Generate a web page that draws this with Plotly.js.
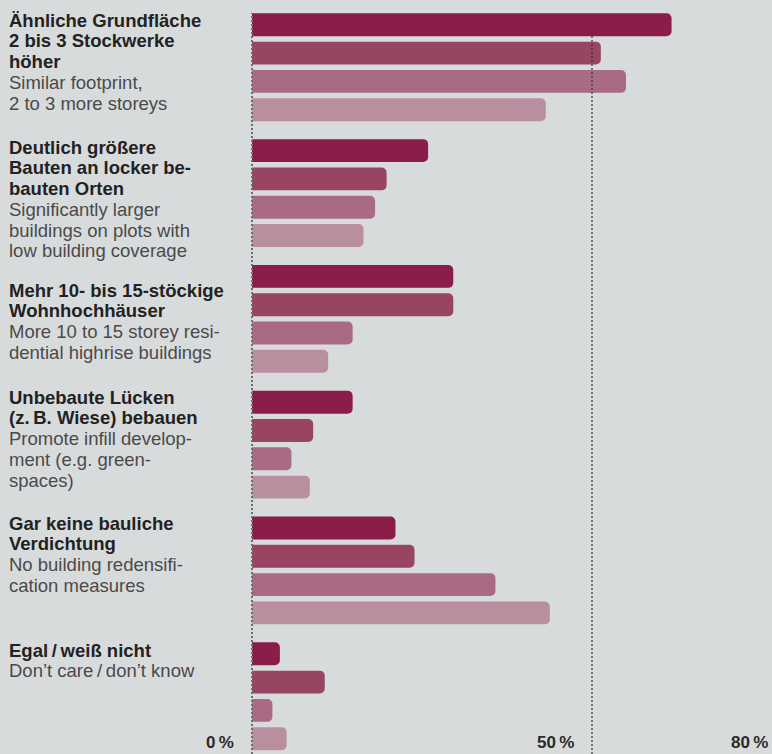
<!DOCTYPE html>
<html>
<head>
<meta charset="utf-8">
<script src="https://cdn.plot.ly/plotly-3.0.1.min.js"></script>
<style>
  html, body { margin: 0; padding: 0; background: #d8dbdc; }
  #chart { width: 772px; height: 754px; }
</style>
</head>
<body>
<div id="chart"></div>
<script>
// ---- data ----
const categories = [
  'Ähnliche Grundfläche',
  'Deutlich größere Bauten',
  'Mehr 10- bis 15-stöckige Wohnhochhäuser',
  'Unbebaute Lücken bebauen',
  'Gar keine bauliche Verdichtung',
  'Egal / weiß nicht'
];
const series1 = [61.7, 25.9, 29.6, 14.8, 21.1, 4.1];
const series2 = [51.3, 19.8, 29.6, 9.0, 23.9, 10.7];
const series3 = [55.0, 18.1, 14.8, 5.8, 35.8, 3.0];
const series4 = [43.2, 16.4, 11.2, 8.5, 43.8, 5.1];
const seriesColors = ['#8b1d4a', '#984564', '#a96b83', '#b98fa0'];

const labelsDe = [
  ['Ähnliche Grundfläche', '2 bis 3 Stockwerke', 'höher'],
  ['Deutlich größere', 'Bauten an locker be-', 'bauten Orten'],
  ['Mehr 10- bis 15-stöckige', 'Wohnhochhäuser'],
  ['Unbebaute Lücken', '(z.\u2009B. Wiese) bebauen'],
  ['Gar keine bauliche', 'Verdichtung'],
  ['Egal\u2009/\u2009weiß nicht']
];
const labelsEn = [
  ['Similar footprint,', '2 to 3 more storeys'],
  ['Significantly larger', 'buildings on plots with', 'low building coverage'],
  ['More 10 to 15 storey resi-', 'dential highrise buildings'],
  ['Promote infill develop-', 'ment (e.g. green-', 'spaces)'],
  ['No building redensifi-', 'cation measures'],
  ['Don\u2019t care\u2009/\u2009don\u2019t know']
];
const tickVals = [0, 50, 80];
const tickLabels = ['0\u2009%', '50\u2009%', '80\u2009%'];

// ---- layout helpers ----
const W = 772, H = 754, ML = 248;
const PW = W - ML;
const textTopPx = [20, 147, 290, 397, 523, 650];
const lineStep = 20.8;
const textLeftPx = 7;
const FONT = 'Liberation Sans, Arial, sans-serif';

const allSeries = [series1, series2, series3, series4];
const traces = allSeries.map((vals, i) => ({
  type: 'bar',
  orientation: 'h',
  x: vals,
  y: categories,
  marker: { color: seriesColors[i], line: { width: 0 } },
  hoverinfo: 'skip',
  showlegend: false
}));

const annotations = [];
labelsDe.forEach((deLines, g) => {
  const lines = deLines.map(t => ({ t, bold: true })).concat(labelsEn[g].map(t => ({ t, bold: false })));
  lines.forEach((ln, i) => {
    const py = textTopPx[g] + i * lineStep;
    annotations.push({
      xref: 'paper', yref: 'paper',
      x: (textLeftPx - ML) / PW, y: 1 - py / H,
      xanchor: 'left', yanchor: 'middle',
      text: ln.bold ? '<b>' + ln.t + '</b>' : ln.t,
      showarrow: false,
      font: { family: FONT, size: 18.5, color: ln.bold ? '#222222' : '#4a4a4a' }
    });
  });
});
tickVals.forEach((v, i) => {
  const last = i === tickVals.length - 1;
  annotations.push({
    xref: last ? 'paper' : 'x', yref: 'paper',
    x: last ? 1 : v, y: 0,
    xanchor: 'right', yanchor: 'bottom',
    xshift: last ? -2 : -16, yshift: 0,
    text: '<b>' + tickLabels[i] + '</b>',
    showarrow: false,
    font: { family: FONT, size: 17, color: '#2a2a2a' }
  });
});

const shapes = [
  { type: 'line', xref: 'x', yref: 'paper', x0: 0, x1: 0, y0: 0, y1: 1 - 13 / H,
    layer: 'above', line: { color: '#6e6e6e', width: 2, dash: '2px,2px' } },
  { type: 'line', xref: 'x', yref: 'paper', x0: 50, x1: 50, y0: 0, y1: 1 - 36 / H,
    layer: 'above', line: { color: '#333333', width: 1.2, dash: '2px,2px' } }
];

const unitPx = 125.8;
const topUnits = -67.25 / unitPx;
const yRange = [topUnits + H / unitPx, topUnits];
const pxPerPct = 6.8;
const xRange = [-(252 - ML) / pxPerPct, -(252 - ML) / pxPerPct + PW / pxPerPct];

const layout = {
  width: W, height: H,
  margin: { l: ML, r: 0, t: 0, b: 0, pad: 0 },
  paper_bgcolor: '#d8dbdc',
  plot_bgcolor: '#d8dbdc',
  barmode: 'group',
  bargap: 0.1,
  bargroupgap: 0.19,
  barcornerradius: 5,
  xaxis: { range: xRange, showgrid: false, zeroline: false, showticklabels: false, showline: false, fixedrange: true },
  yaxis: { type: 'category', range: yRange, showgrid: false, zeroline: false, showticklabels: false, showline: false, fixedrange: true },
  annotations: annotations,
  shapes: shapes,
  font: { family: FONT }
};

Plotly.newPlot('chart', traces, layout, { staticPlot: true, displayModeBar: false });
</script>
</body>
</html>
